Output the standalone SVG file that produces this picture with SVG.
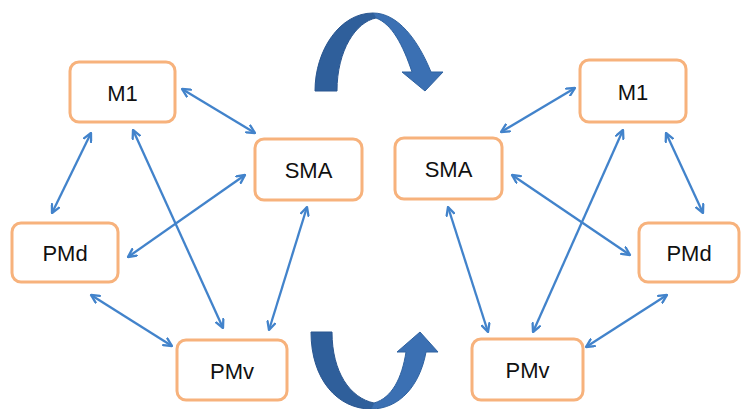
<svg xmlns="http://www.w3.org/2000/svg" width="741" height="409" viewBox="0 0 741 409">
  <style>
    .box { fill: #ffffff; stroke: #f7b27c; stroke-width: 3; }
    .lbl { font-family: "Liberation Sans", Arial, sans-serif; font-size: 22px; fill: #111111; text-anchor: middle; dominant-baseline: central; }
    .link { stroke: #4283cb; stroke-width: 2.3; fill: none; marker-start: url(#head); marker-end: url(#head); }
    .dark { fill: #2f5f9b; stroke: #2a5690; stroke-width: 1; }
    .light { fill: #3b70b3; stroke: #2f62a0; stroke-width: 1; }
  </style>
  <defs>
    <marker id="head" viewBox="0 0 10 10" refX="9" refY="5" markerWidth="10" markerHeight="10" markerUnits="userSpaceOnUse" orient="auto-start-reverse">
      <path d="M1,1 L9,5 L1,9" fill="none" stroke="#4283cb" stroke-width="2.3" stroke-linecap="round" stroke-linejoin="round"/>
    </marker>
  </defs>
  <rect width="741" height="409" fill="#ffffff"/>

  <!-- curved rotation arrows between the two panels -->
  <g id="turn-top">
    <path class="dark" d="M315,91 C315,50 340,13 373,13 L376,18 C356,22 337,50 337,91 Z"/>
    <path class="light" d="M373,13 C398,13 418,40 431,72 L443,72 L425,91 L402,72 L412,72 C403,45 392,24 376,18 Z"/>
  </g>
  <g id="turn-bottom">
    <path class="dark" d="M311,332 L332,332 C332,372 350,398 374,403 L371,409 C338,409 311,380 311,332 Z"/>
    <path class="light" d="M371,409 C400,409 420,385 426,352 L438,352 L420,332 L397,352 L406,352 C402,378 392,398 374,403 Z"/>
  </g>

  <!-- connectors -->
  <g id="connectors">
    <line class="link" x1="182" y1="89" x2="255" y2="133"/>
    <line class="link" x1="91" y1="133" x2="52" y2="213"/>
    <line class="link" x1="133" y1="130" x2="223" y2="328"/>
    <line class="link" x1="245" y1="175" x2="128" y2="257"/>
    <line class="link" x1="307" y1="207" x2="269" y2="330"/>
    <line class="link" x1="91" y1="295" x2="172" y2="346"/>

    <line class="link" x1="575" y1="88" x2="501" y2="132"/>
    <line class="link" x1="666" y1="133" x2="703" y2="213"/>
    <line class="link" x1="623" y1="130" x2="533" y2="332"/>
    <line class="link" x1="512" y1="175" x2="630" y2="255"/>
    <line class="link" x1="448" y1="207" x2="488" y2="332"/>
    <line class="link" x1="667" y1="295" x2="586" y2="347"/>
  </g>

  <!-- left panel -->
  <g id="left-M1">
    <rect class="box" x="70" y="62" width="105" height="60" rx="9"/>
    <text class="lbl" x="122.5" y="93">M1</text>
  </g>
  <g id="left-SMA">
    <rect class="box" x="255" y="139" width="107" height="61" rx="9"/>
    <text class="lbl" x="308.5" y="170">SMA</text>
  </g>
  <g id="left-PMd">
    <rect class="box" x="12" y="223" width="106" height="59" rx="9"/>
    <text class="lbl" x="65" y="253">PMd</text>
  </g>
  <g id="left-PMv">
    <rect class="box" x="177" y="340" width="110" height="60" rx="9"/>
    <text class="lbl" x="232" y="371">PMv</text>
  </g>

  <!-- right panel -->
  <g id="right-M1">
    <rect class="box" x="580" y="60" width="106" height="62" rx="9"/>
    <text class="lbl" x="633" y="92">M1</text>
  </g>
  <g id="right-SMA">
    <rect class="box" x="395" y="138" width="107" height="61" rx="9"/>
    <text class="lbl" x="448.5" y="169">SMA</text>
  </g>
  <g id="right-PMd">
    <rect class="box" x="639" y="223" width="100" height="59" rx="9"/>
    <text class="lbl" x="689" y="253">PMd</text>
  </g>
  <g id="right-PMv">
    <rect class="box" x="472" y="339" width="111" height="61" rx="9"/>
    <text class="lbl" x="527.5" y="370">PMv</text>
  </g>
</svg>
